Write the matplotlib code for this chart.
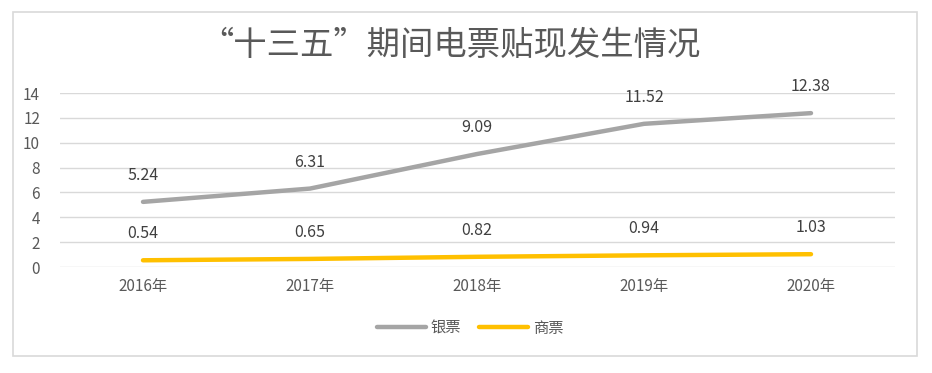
import matplotlib
matplotlib.use('Agg')
from matplotlib import pyplot as plt
from matplotlib.patches import Rectangle

years = ['2016年', '2017年', '2018年', '2019年', '2020年']
yinpiao = [5.24, 6.31, 9.09, 11.52, 12.38]
shangpiao = [0.54, 0.65, 0.82, 0.94, 1.03]

plt.rcParams['font.family'] = ['Noto Sans CJK SC', 'DejaVu Sans']

W, H = 932, 373
fig = plt.figure(figsize=(W / 100, H / 100), dpi=100)

# outer chart border
fig.patches.append(Rectangle((13 / W, 1 - 356 / H), 904 / W, 344 / H,
                             transform=fig.transFigure, fill=False,
                             edgecolor='#D9D9D9', linewidth=1.2))

ax = fig.add_axes([59.5 / W, 1 - 267 / H, 835 / W, 174 / H])
x = list(range(len(years)))

ax.plot(x, yinpiao, color='#A5A5A5', linewidth=3.2, solid_capstyle='round', label='银票', zorder=3)
ax.plot(x, shangpiao, color='#FFC000', linewidth=3.2, solid_capstyle='round', label='商票', zorder=3)

for xi, v in zip(x, yinpiao):
    ax.annotate(f'{v:.2f}', (xi, v), xytext=(0, 19), textcoords='offset points',
                ha='center', va='center', fontsize=11.5, color='#404040')
for xi, v in zip(x, shangpiao):
    ax.annotate(f'{v:.2f}', (xi, v), xytext=(0, 19), textcoords='offset points',
                ha='center', va='center', fontsize=11.5, color='#404040')

ax.set_xlim(-0.5, 4.5)
ax.set_ylim(0, 14)
ax.set_yticks(range(0, 15, 2))
ax.set_xticks(x)
ax.set_xticklabels(years)
ax.grid(axis='y', color='#D9D9D9', linewidth=1)
ax.set_axisbelow(True)
for s in ax.spines.values():
    s.set_visible(False)
ax.tick_params(length=0, labelsize=11, colors='#595959', pad=8)
ax.tick_params(axis='y', pad=14)

fig.text(450 / W, 1 - 45 / H, '“十三五”期间电票贴现发生情况', ha='center', va='center',
         fontsize=24, color='#595959')

fig.legend(loc='center', bbox_to_anchor=(470 / W, 1 - 328 / H), ncol=2, frameon=False,
           fontsize=11, handlelength=3.2, columnspacing=1.2, handletextpad=0.3,
           labelcolor='#595959')

fig.savefig('out.png', dpi=100)
